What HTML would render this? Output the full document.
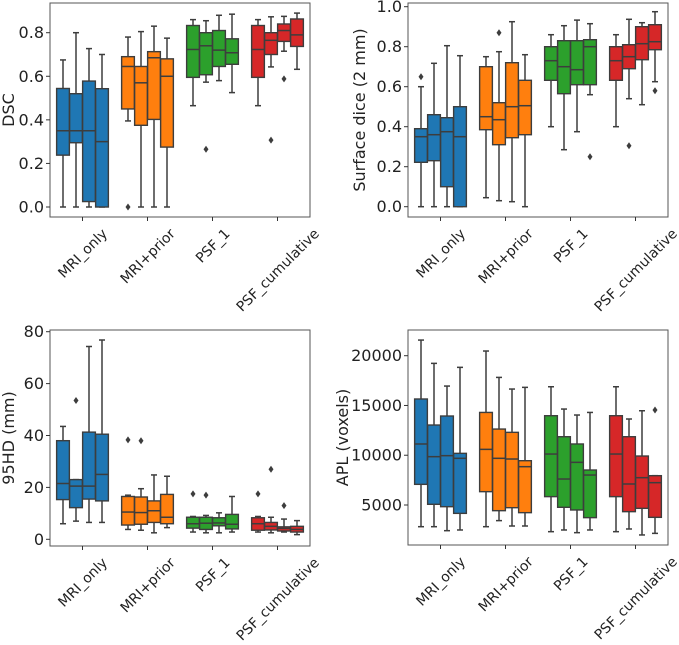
<!DOCTYPE html>
<html><head><meta charset="utf-8">
<style>
html,body{margin:0;padding:0;background:#fff;}
svg{display:block;font-family:"DejaVu Sans","Liberation Sans",sans-serif;}
</style></head>
<body>
<svg id="fig" width="679" height="645" viewBox="0 0 679 645"></svg>
<script>
// Shared categories
const categories = ["MRI_only","MRI+prior","PSF_1","PSF_cumulative"];
// Each box: [lowWhisker, q1, median, q3, highWhisker]; outliers separate
const dscBoxes = [
 [0,0.238,0.35,0.544,0.675],[0,0.295,0.35,0.52,0.80],[0,0.025,0.35,0.578,0.727],[0,0,0.30,0.543,0.70],
 [0.395,0.45,0.645,0.69,0.78],[0,0.375,0.57,0.645,0.805],[0,0.402,0.685,0.713,0.83],[0,0.275,0.60,0.68,0.775],
 [0.465,0.595,0.723,0.833,0.86],[0.573,0.607,0.74,0.80,0.855],[0.58,0.645,0.72,0.81,0.88],[0.525,0.655,0.708,0.772,0.885],
 [0.465,0.595,0.723,0.833,0.86],[0.643,0.70,0.765,0.80,0.873],[0.715,0.76,0.81,0.84,0.875],[0.632,0.737,0.79,0.863,0.89]];
const dscOutliers = [[],[],[],[],[0],[],[],[],[],[0.265],[],[],[],[0.307],[0.588],[]];
const sdBoxes = [
 [0,0.222,0.35,0.39,0.60],[0,0.23,0.36,0.46,0.717],[0,0.10,0.375,0.445,0.805],[0,0,0.35,0.50,0.755],
 [0.045,0.385,0.45,0.70,0.75],[0.03,0.31,0.435,0.52,0.775],[0.025,0.345,0.50,0.72,0.925],[0,0.36,0.505,0.632,0.76],
 [0.40,0.632,0.73,0.80,0.86],[0.285,0.565,0.70,0.83,0.905],[0.375,0.61,0.685,0.83,0.933],[0.56,0.61,0.80,0.835,0.915],
 [0.40,0.632,0.73,0.80,0.86],[0.54,0.69,0.75,0.81,0.937],[0.51,0.735,0.815,0.90,0.92],[0.625,0.785,0.825,0.91,0.975]];
const sdOutliers = [[0.65],[],[],[],[],[0.87],[],[],[],[],[],[0.25],[],[0.305],[],[0.58]];
const hdBoxes = [
 [6,15.3,21.5,38,43.5],[7,12.2,20.5,23,23],[6.5,15.5,20.5,41.3,74.3],[6.5,14.8,25,40.5,76.8],
 [3.8,5.5,10.5,16.5,17],[3.5,5.8,10.3,16.3,19.5],[2.5,6.5,11,14.8,24.8],[4.5,6,8.5,17.3,24.3],
 [2.8,4.3,6,8.5,8.8],[2.5,3.8,6.2,8.5,9.2],[2.5,5.2,6.3,8.3,10.2],[2.8,4,5.8,9.6,16.5],
 [2.8,3.5,6,8.3,8.8],[2.5,3.6,5,6.5,8.5],[2.8,3.2,4.2,4.8,7.8],[1.8,2.8,3.8,5,7.2]];
const hdOutliers = [[],[53.5],[],[],[38.3],[38],[],[],[17.5],[17],[],[],[17.5],[27],[13],[]];
const aplBoxes = [
 [2820,7075,11130,15650,21570],[2820,5070,9855,13035,19230],[2420,4830,9955,13940,16950],[2490,4160,9690,10190,18830],
 [2820,6340,10590,14300,20470],[3430,4430,9690,12630,17820],[2890,4730,9620,12300,16650],[2890,4230,8850,9450,16820],
 [2320,5840,10120,13970,16880],[2490,4770,7610,11860,14640],[2220,4500,9285,11130,14040],[2490,3730,8010,8515,14300],
 [2320,5840,10120,13970,16880],[2590,4330,7110,11860,13640],[1990,4665,7745,9920,14470],[2150,3760,7243,7946,7946]];
const aplOutliers = [[],[],[],[],[],[],[],[],[],[],[],[],[],[],[],[14540]];
const dscTicks = [0,0.2,0.4,0.6,0.8], dscTickLabels=["0.0","0.2","0.4","0.6","0.8"];
const sdTicks = [0,0.2,0.4,0.6,0.8,1.0], sdTickLabels=["0.0","0.2","0.4","0.6","0.8","1.0"];
const hdTicks = [0,20,40,60,80], hdTickLabels=["0","20","40","60","80"];
const aplTicks = [5000,10000,15000,20000], aplTickLabels=["5000","10000","15000","20000"];

const colors = ["#1f77b4","#ff7f0e","#2ca02c","#d62728"];
const NS="http://www.w3.org/2000/svg";
const svg=document.getElementById('fig');
function mk(tag,attrs,parent){const e=document.createElementNS(NS,tag);for(const k in attrs)e.setAttribute(k,attrs[k]);(parent||svg).appendChild(e);return e;}

function panel(cfg){
  const g=mk('g',{});
  
  
  const yScale=v=>cfg.p0+(v-cfg.v0)*(cfg.p1-cfg.p0)/(cfg.v1-cfg.v0);
  const w=(cfg.right-cfg.left)/4;
  const xCenter=i=>cfg.left+(i+0.5)*w;
  cfg.boxes.forEach((b,k)=>{
    const gi=Math.floor(k/4), si=k%4;
    const cx=xCenter(gi)-0.4*w+(si+0.5)*0.2*w;
    const bw=0.2*w*0.98;
    const bg=mk('g',{},g);
    
    
    const st={stroke:'#3d3d3d','stroke-width':1.5,fill:'none'};
    mk('line',Object.assign({x1:cx,x2:cx,y1:yScale(b[0]),y2:yScale(b[1])},st),bg);
    mk('line',Object.assign({x1:cx,x2:cx,y1:yScale(b[3]),y2:yScale(b[4])},st),bg);
    mk('line',Object.assign({x1:cx-3,x2:cx+3,y1:yScale(b[0]),y2:yScale(b[0])},st),bg);
    mk('line',Object.assign({x1:cx-3,x2:cx+3,y1:yScale(b[4]),y2:yScale(b[4])},st),bg);
    const yt=yScale(b[3]), yb=yScale(b[1]);
    mk('rect',{x:cx-bw/2,y:Math.min(yt,yb),width:bw,height:Math.max(Math.abs(yb-yt),0.5),fill:colors[gi],stroke:'#3d3d3d','stroke-width':1.4},bg);
    mk('line',Object.assign({x1:cx-bw/2,x2:cx+bw/2,y1:yScale(b[2]),y2:yScale(b[2])},st),bg);
    cfg.outliers[k].forEach(o=>{
      const oy=yScale(o);
      const d=mk('path',{d:`M${cx} ${oy-3.5}L${cx+2.5} ${oy}L${cx} ${oy+3.5}L${cx-2.5} ${oy}Z`,fill:'#3d3d3d'},bg);
      
      
    });
  });
  const fr=mk('rect',{x:cfg.left,y:cfg.top,width:cfg.right-cfg.left,height:cfg.bottom-cfg.top,fill:'none',stroke:'#555','stroke-width':1},g);
  
  
  cfg.ticks.forEach((t,i)=>{
    const y=yScale(t);
    mk('line',{x1:cfg.left-4,x2:cfg.left,y1:y,y2:y,stroke:'#333','stroke-width':1},g);
    const tx=mk('text',{x:cfg.left-6,y:y+5.5,'text-anchor':'end','font-size':16,fill:'#222'},g);
    tx.textContent=cfg.tickLabels[i];
    
    
  });
  categories.forEach((c,i)=>{
    const x=xCenter(i);
    mk('line',{x1:x,x2:x,y1:cfg.bottom,y2:cfg.bottom+4,stroke:'#333','stroke-width':1},g);
    const tx=mk('text',{'text-anchor':'middle','font-size':14,fill:'#222'},g);
    tx.textContent=c;
    
    
    const L=tx.getComputedTextLength();
    const cy=cfg.bottom+9+(L*0.707+14*0.707)/2;
    tx.setAttribute('transform',`translate(${x},${cy}) rotate(-45) translate(0,5)`);
  });
  const yl=mk('text',{'text-anchor':'middle','font-size':16,fill:'#222',transform:`translate(${cfg.ylx},${(cfg.top+cfg.bottom)/2}) rotate(-90)`},g);
  yl.textContent=cfg.ylabel;
  
  
}
panel({name:'dsc-panel',left:50,right:310,top:3,bottom:217,v0:0,p0:207,v1:0.8,p1:32.7,boxes:dscBoxes,outliers:dscOutliers,ticks:dscTicks,tickLabels:dscTickLabels,ylabel:'DSC',ylx:14});
panel({name:'surface-dice-panel',left:408,right:668,top:3,bottom:217,v0:0,p0:206.7,v1:1.0,p1:6.7,boxes:sdBoxes,outliers:sdOutliers,ticks:sdTicks,tickLabels:sdTickLabels,ylabel:'Surface dice (2 mm)',ylx:365});
panel({name:'hd95-panel',left:50,right:310,top:330,bottom:546,v0:0,p0:539.3,v1:80,p1:331.7,boxes:hdBoxes,outliers:hdOutliers,ticks:hdTicks,tickLabels:hdTickLabels,ylabel:'95HD (mm)',ylx:14});
panel({name:'apl-panel',left:408,right:668,top:330,bottom:545,v0:5000,p0:505,v1:20000,p1:355.7,boxes:aplBoxes,outliers:aplOutliers,ticks:aplTicks,tickLabels:aplTickLabels,ylabel:'APL (voxels)',ylx:348});
</script>
</body></html>
